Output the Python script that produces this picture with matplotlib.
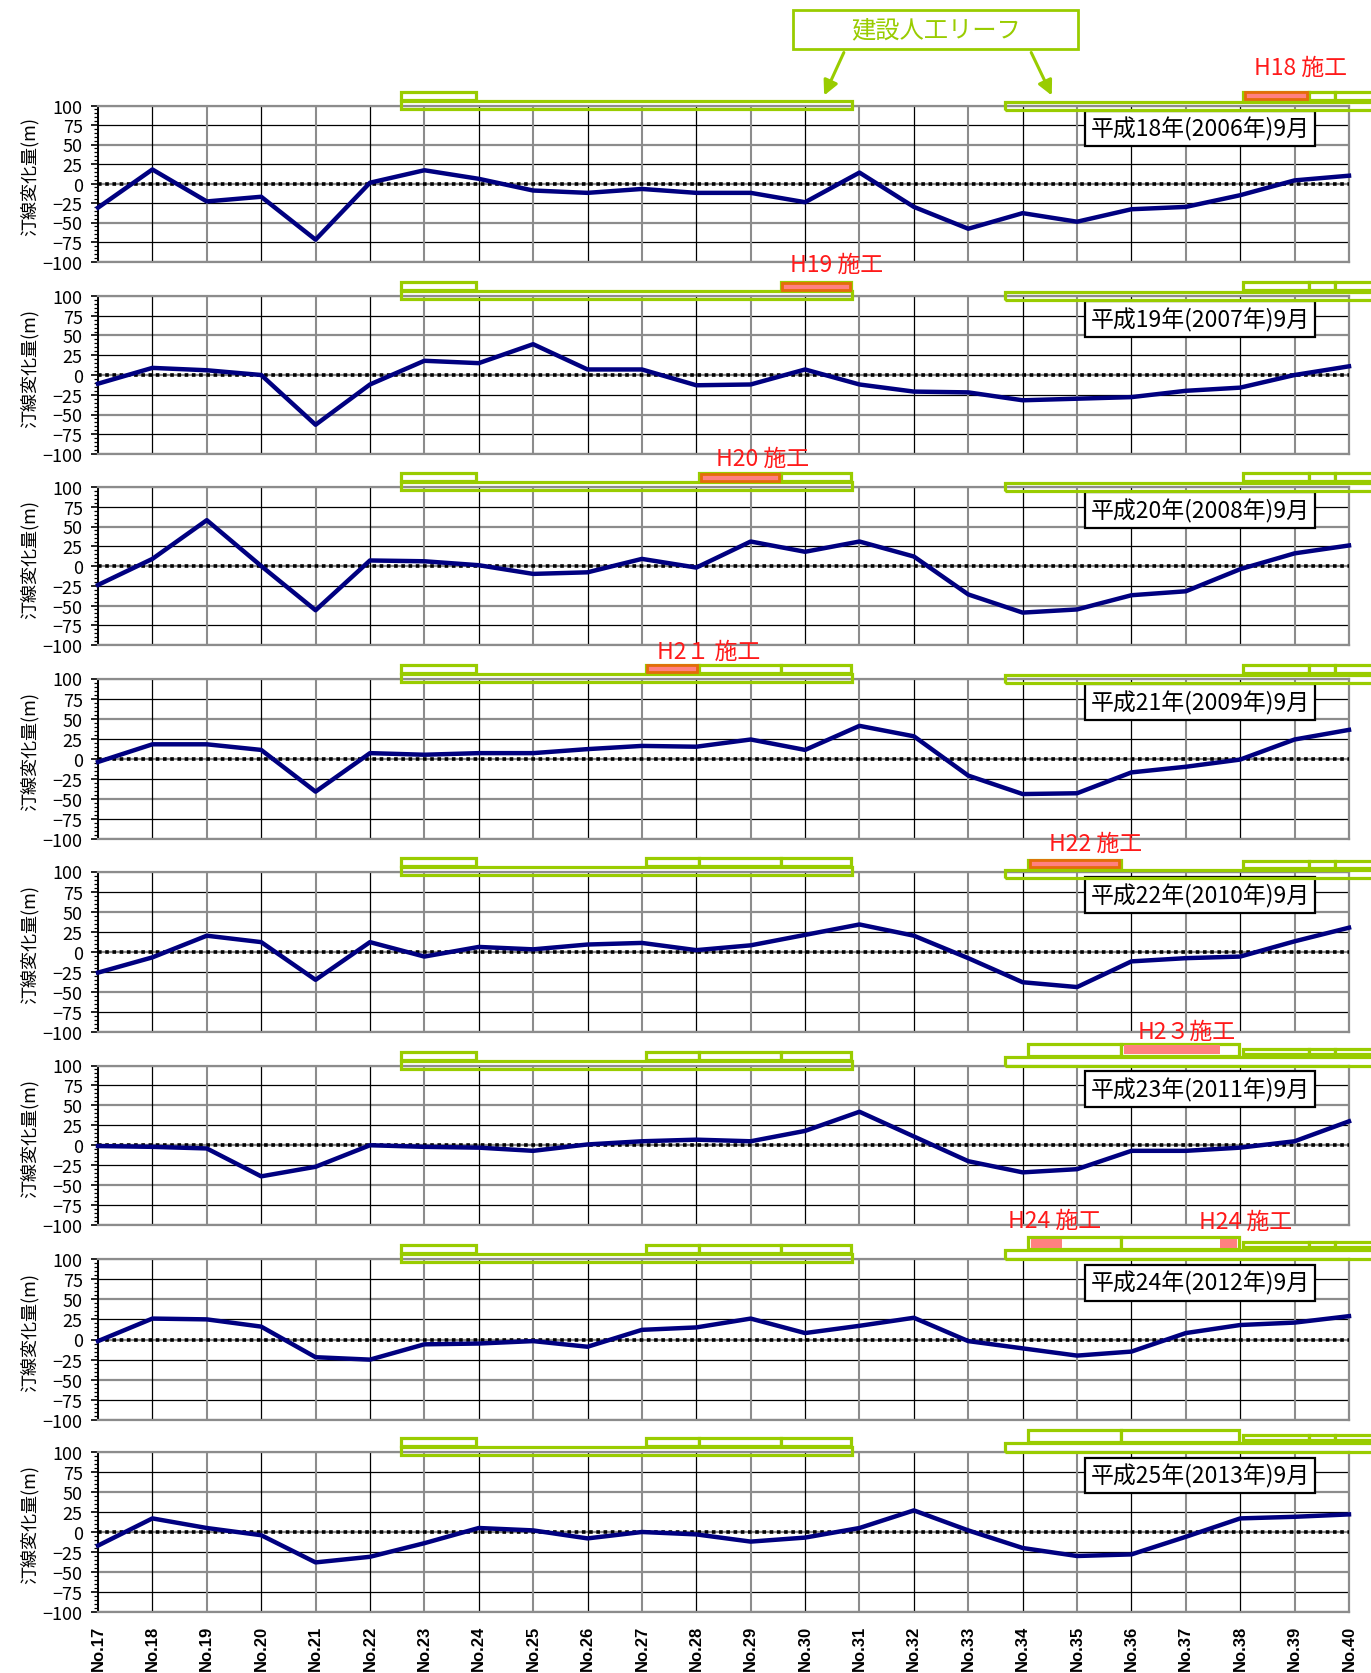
import matplotlib
matplotlib.use('Agg')
import matplotlib.pyplot as plt
import matplotlib.transforms as mtransforms
from matplotlib.patches import Rectangle, FancyArrowPatch
import numpy as np

# ---- data -------------------------------------------------------------
stations = list(range(17, 41))
station_labels = [f'No.{n}' for n in stations]

titles = ['平成18年(2006年)9月', '平成19年(2007年)9月', '平成20年(2008年)9月',
          '平成21年(2009年)9月', '平成22年(2010年)9月', '平成23年(2011年)9月',
          '平成24年(2012年)9月', '平成25年(2013年)9月']

# shoreline change (m) at No.17 ... No.40
h18 = [-31, 18, -23, -17, -72, 1, 17, 6, -9, -12, -7, -12,
       -12, -24, 14, -30, -58, -38, -49, -33, -30, -15, 4, 10]
h19 = [-11, 9, 6, 0, -63, -12, 18, 15, 39, 7, 7, -13,
       -12, 7, -12, -21, -22, -32, -30, -28, -20, -16, 0, 11]
h20 = [-24, 9, 58, 0, -56, 7, 6, 1, -10, -8, 9, -2,
       31, 18, 31, 12, -36, -59, -55, -37, -32, -4, 16, 26]
h21 = [-4, 18, 18, 11, -41, 7, 5, 7, 7, 12, 16, 15,
       24, 11, 41, 28, -21, -44, -43, -17, -10, -1, 24, 36]
h22 = [-26, -7, 20, 12, -35, 12, -6, 6, 3, 9, 11, 2,
       8, 21, 34, 20, -8, -38, -44, -12, -8, -6, 13, 30]
h23 = [-1, -2, -4, -39, -27, 0, -2, -3, -7, 1, 5, 7,
       5, 18, 42, 11, -20, -34, -30, -7, -7, -3, 5, 30]
h24 = [-2, 26, 25, 16, -22, -25, -6, -5, -2, -9, 12, 15,
       26, 8, 17, 27, -2, -11, -20, -15, 8, 18, 21, 29]
h25 = [-17, 17, 5, -4, -38, -31, -14, 5, 2, -8, 0, -3,
       -12, -7, 5, 27, 2, -20, -30, -28, -6, 17, 19, 22]
series = [h18, h19, h20, h21, h22, h23, h24, h25]

y_ticks = [100, 75, 50, 25, 0, -25, -50, -75, -100]

# reef layout along the coast (station units)
left_long = (22.57, 30.86)
left_upper = [(22.57, 23.95), (27.07, 28.05), (28.05, 29.55), (29.55, 30.85)]
right_long = (33.67, 40.6)
right_upper = [(34.1, 35.8), (35.8, 37.97), (38.05, 39.26), (39.26, 39.75), (39.75, 40.6)]
# which upper segments exist each year
left_shown = [[0], [0, 3], [0, 2, 3], [0, 1, 2, 3], [0, 1, 2, 3], [0, 1, 2, 3], [0, 1, 2, 3], [0, 1, 2, 3]]
right_shown = [[2, 3, 4], [2, 3, 4], [2, 3, 4], [2, 3, 4], [0, 2, 3, 4],
               [0, 1, 2, 3, 4], [0, 1, 2, 3, 4], [0, 1, 2, 3, 4]]
# construction of the year: (x0, x1, kind)
works = [[(38.05, 39.26, 'box')], [(29.55, 30.85, 'box')], [(28.05, 29.55, 'box')],
         [(27.07, 28.05, 'box')], [(34.1, 35.8, 'box')], [(35.86, 37.63, 'fill')],
         [(34.15, 34.72, 'fill'), (37.63, 37.95, 'fill')], []]
work_labels = [['H18 施工'], ['H19 施工'], ['H20 施工'], ['H2１ 施工'], ['H22 施工'],
               ['H2３施工'], ['H24 施工', 'H24 施工'], []]

# ---- layout (pixels of the 1371x1674 picture) ---------------------------
FIG_W, FIG_H = 1371, 1674
left_px, right_px = 98, 1349
tops = [106.5, 297, 488, 679.5, 872.5, 1066.5, 1260, 1453]
bottoms = [262.5, 455, 646, 840, 1033, 1226, 1421, 1613]
label_pos = [[(1300, 68)], [(837, 265)], [(763, 459)], [(709, 652)], [(1096, 844)],
             [(1187, 1032)], [(1055, 1221), (1246, 1222)], []]
right_off = [((5, 15), (5, 15), (-5, 5))] * 4 + [((3, 13), (3, 12), (-7, 3))] + \
            [((9, 23), (11, 18), (-1, 10))] * 3
left_off = ((5, 15), (-4, 6))

GREEN = '#99CC00'
NAVY = '#000080'
SALMON = '#FF8080'
ORANGE = '#E46C0A'
GRAY = '#8C8C8C'

plt.rcParams['font.family'] = ['Noto Sans CJK JP', 'DejaVu Sans']

fig = plt.figure(figsize=(FIG_W / 100, FIG_H / 100), dpi=100)


def fy(px):
    return 1 - px / FIG_H


def fx(px):
    return px / FIG_W


for k, vals in enumerate(series):
    top, bot = tops[k], bottoms[k]
    ax = fig.add_axes([fx(left_px), fy(bot), (right_px - left_px) / FIG_W, (bot - top) / FIG_H])
    ax.set_xlim(stations[0], stations[-1])
    ax.set_ylim(-100, 100)

    # grid: gray and black lines alternate
    for i, yv in enumerate(y_ticks):
        if i % 2 == 0:
            ax.axhline(yv, color=GRAY, lw=1.6, zorder=1)
        else:
            ax.axhline(yv, color='black', lw=0.9, zorder=1)
    for i, xv in enumerate(stations):
        if i % 2 == 0:
            ax.axvline(xv, color=GRAY, lw=1.5, zorder=1)
        else:
            ax.axvline(xv, color='black', lw=0.9, zorder=1)

    ax.axhline(0, color='black', lw=2.6, ls=(0, (1, 1)), zorder=3)
    ax.plot(stations, vals, color=NAVY, lw=3.2, zorder=4, clip_on=False)

    for side in ['top', 'right', 'bottom']:
        ax.spines[side].set_color(GRAY)
        ax.spines[side].set_linewidth(1.6)
    ax.spines['left'].set_color('black')
    ax.spines['left'].set_linewidth(1.4)

    ax.set_yticks(y_ticks)
    ax.set_yticks(np.arange(-100, 101, 5), minor=True)
    ax.tick_params(axis='y', which='major', length=5, width=1.2, pad=6, labelsize=13)
    ax.tick_params(axis='y', which='minor', length=3, width=0.9)
    ax.set_xticks(stations)
    ax.tick_params(axis='x', length=0)
    if k == len(series) - 1:
        ax.set_xticklabels(station_labels, rotation=90, fontsize=12, fontweight='bold',
                           fontfamily='Liberation Sans', va='top', ha='center')
        ax.tick_params(axis='x', pad=9)
    else:
        ax.set_xticklabels([])

    ax.text(-0.055, 0.55, '汀線変化量(m)', transform=ax.transAxes, rotation=90,
            ha='center', va='center', fontsize=13)
    ax.text(0.881, 0.853, titles[k], transform=ax.transAxes, ha='center', va='center',
            fontsize=16.5, zorder=10,
            bbox=dict(boxstyle='square,pad=0.25', fc='white', ec='black', lw=1.6))

    # reef outlines above the panel
    trans = mtransforms.blended_transform_factory(ax.transData, fig.transFigure)
    ytop = fy(top)

    def box(x0, x1, off, fc='white', ec=GREEN, lw=2.3, z=20):
        lo, hi = off
        r = Rectangle((x0, ytop + (lo + 1) / FIG_H), x1 - x0, (hi - lo - 2) / FIG_H,
                      transform=trans, fc=fc, ec=ec, lw=lw, clip_on=False, zorder=z)
        fig.add_artist(r)

    (lu_off, ll_off) = left_off
    box(left_long[0], left_long[1], ll_off, fc='none')
    for j in left_shown[k]:
        box(*left_upper[j], lu_off)
    ru_a, ru_b, rl = right_off[k]
    box(right_long[0], right_long[1], rl, fc='none')
    for j in right_shown[k]:
        box(*right_upper[j], ru_a if j < 2 else ru_b)
    for (x0, x1, kind) in works[k]:
        if kind == 'box':
            off = lu_off if x1 < 32 else ru_a
            box(x0 + 0.03, x1 - 0.03, (off[0] + 0.5, off[1] - 0.5), fc=SALMON, ec=ORANGE, lw=2.0, z=21)
        else:
            lo, hi = ru_a
            box(x0, x1, (lo + 1.5, hi - 1.5), fc=SALMON, ec='none', lw=0, z=21)

    for txt, (px, py) in zip(work_labels[k], label_pos[k]):
        fig.text(fx(px), fy(py), txt, color='#FF1A1A', fontsize=16.5, ha='center', va='center')

# legend box for the reefs
fig.add_artist(Rectangle((fx(793), fy(50)), (1078 - 793) / FIG_W, 39 / FIG_H,
                         transform=fig.transFigure, fc='white', ec=GREEN, lw=2))
fig.text(fx(936), fy(30), '建設人工リーフ', color=GREEN, fontsize=17.5, ha='center', va='center')
for (xa, ya), (xb, yb) in [((845, 51), (823, 99)), ((1030, 51), (1053, 99))]:
    fig.add_artist(FancyArrowPatch((fx(xa), fy(ya)), (fx(xb), fy(yb)), transform=fig.transFigure,
                                   arrowstyle='-|>', mutation_scale=22, color=GREEN, lw=2.2))

fig.savefig('out.png', dpi=100)
